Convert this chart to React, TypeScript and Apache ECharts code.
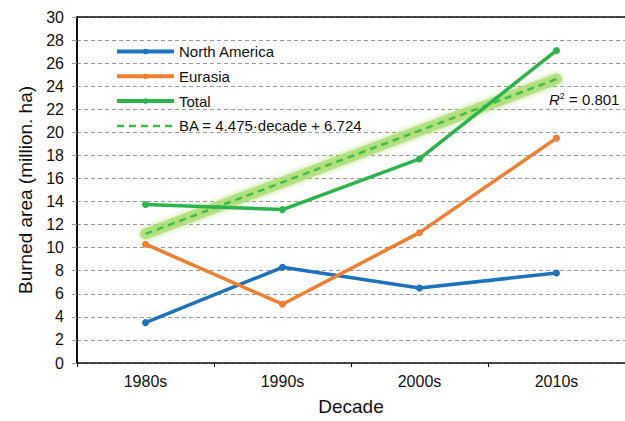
import React, { useEffect, useRef } from "react";
import * as echarts from "echarts";

const decades = ["1980s", "1990s", "2000s", "2010s"];
const northAmerica = [3.5, 8.3, 6.5, 7.8];
const eurasia = [10.3, 5.1, 11.3, 19.5];
const total = [13.75, 13.3, 17.7, 27.1];
const trend = [11.2, 15.67, 20.15, 24.62];
const yTicks = { min: 0, max: 30, interval: 2 };
const trendName = "BA = 4.475·decade + 6.724";
const r2Label = "0.801";

const FONT = "Liberation Sans, Arial, Helvetica, sans-serif";
const BLUE = "#1f72bb";
const ORANGE = "#f07f32";
const GREEN = "#2bb34c";
const TREND = "#3fbf4a";

export default function App() {
  const ref = useRef<HTMLDivElement>(null);
  useEffect(() => {
    if (!ref.current) return;
    const chart = echarts.init(ref.current, undefined, { renderer: "svg" });
    const lineSeries = (name: string, data: number[], color: string) => ({
      name,
      type: "line",
      data,
      symbol: "circle",
      symbolSize: 7,
      itemStyle: { color },
      lineStyle: { color, width: 3.5 },
      z: 5,
    });
    chart.setOption({
      animation: false,
      textStyle: { fontFamily: FONT },
      grid: { left: 77, right: 0, top: 17, bottom: 55 },
      legend: {
        orient: "vertical",
        left: 115,
        top: 44,
        itemWidth: 57,
        itemHeight: 7,
        itemGap: 9.8,
        padding: 0,
        textStyle: { fontFamily: FONT, fontSize: 15, color: "#111" },
        data: [
          { name: "North America", lineStyle: { width: 4 } },
          { name: "Eurasia", lineStyle: { width: 4 } },
          { name: "Total", lineStyle: { width: 4 } },
          { name: trendName, itemStyle: { opacity: 0 }, lineStyle: { width: 2.5 } },
        ],
      },
      xAxis: [
        {
          type: "category",
          data: decades,
          position: "bottom",
          axisLine: { show: true, lineStyle: { color: "#111", width: 1.5 } },
          axisTick: { show: true, length: 4, lineStyle: { color: "#111" } },
          axisLabel: { fontFamily: FONT, fontSize: 16, color: "#111", margin: 10 },
          name: "Decade",
          nameLocation: "middle",
          nameGap: 34,
          nameTextStyle: { fontFamily: FONT, fontSize: 19, color: "#111" },
          splitLine: { show: false },
        },
        {
          type: "category",
          data: decades,
          position: "top",
          axisLine: { show: true, lineStyle: { color: "#111", width: 1.5 } },
          axisTick: { show: false },
          axisLabel: { show: false },
          splitLine: { show: false },
        },
      ],
      yAxis: {
        type: "value",
        min: yTicks.min,
        max: yTicks.max,
        interval: yTicks.interval,
        axisLine: { show: true, lineStyle: { color: "#111", width: 2 } },
        axisTick: { show: true, length: 5, lineStyle: { color: "#999" } },
        axisLabel: { fontFamily: FONT, fontSize: 16, color: "#111", margin: 13 },
        splitLine: { show: true, lineStyle: { color: "#9a9a9a", type: [4, 3], width: 1 } },
        name: "Burned area (million. ha)",
        nameLocation: "middle",
        nameGap: 42,
        nameTextStyle: { fontFamily: FONT, fontSize: 19, color: "#111" },
      },
      series: [
        {
          type: "line",
          data: trend,
          symbol: "none",
          silent: true,
          lineStyle: {
            color: "rgba(170,220,110,0.75)",
            width: 11,
            shadowBlur: 6,
            shadowColor: "rgba(150,210,80,0.8)",
            cap: "round",
          },
          z: 2,
        },
        {
          name: trendName,
          type: "line",
          data: trend,
          symbol: "none",
          itemStyle: { color: TREND },
          lineStyle: { color: TREND, width: 2.5, type: [7, 5] },
          z: 3,
        },
        lineSeries("North America", northAmerica, BLUE),
        lineSeries("Eurasia", eurasia, ORANGE),
        lineSeries("Total", total, GREEN),
      ],
      graphic: [
        {
          type: "text",
          left: 549,
          top: 91,
          style: {
            text: "{i|R}{s|2}{n| = " + r2Label + "}",
            rich: {
              i: { fontFamily: FONT, fontSize: 15, fontStyle: "italic", fill: "#111" },
              s: { fontFamily: FONT, fontSize: 9, fill: "#111", verticalAlign: "top", padding: [0, 0, 8, 0] },
              n: { fontFamily: FONT, fontSize: 15, fill: "#111" },
            },
          },
          z: 10,
        },
      ],
    });
    return () => chart.dispose();
  }, []);
  return (
    <div
      ref={ref}
      style={{ position: "fixed", left: 0, top: 0, width: 625, height: 421, background: "#fff" }}
    />
  );
}
